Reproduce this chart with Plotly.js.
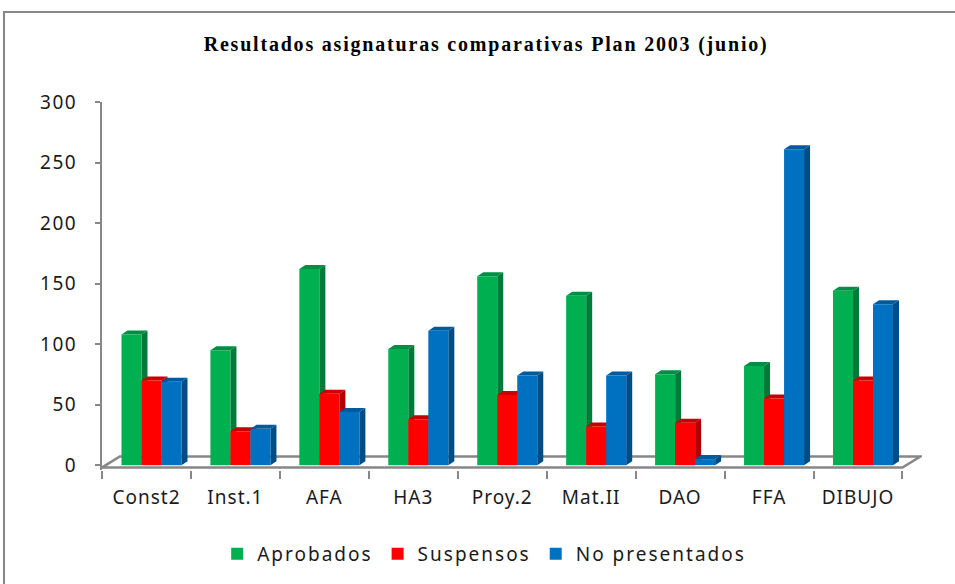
<!DOCTYPE html>
<html><head><meta charset="utf-8">
<script src="https://cdn.plot.ly/plotly-3.0.1.min.js"></script>
<style>
html,body{margin:0;padding:0;background:#fff;}
#wrap{position:relative;width:955px;height:584px;overflow:hidden;}
#chart{width:955px;height:584px;}
#frame{position:absolute;left:3px;top:11px;width:952px;height:573px;border-top:2px solid #878787;border-left:2px solid #878787;pointer-events:none;box-sizing:border-box;}
.gtitle{letter-spacing:1.8px;}
.legendtext{letter-spacing:2px;}
.xtick text{letter-spacing:1px;}
.ytick text{letter-spacing:1.5px;}
</style></head>
<body>
<div id="wrap"><div id="chart"></div><div id="frame"></div></div>
<script>
// ---- data ----
const categories = ['Const2','Inst.1','AFA','HA3','Proy.2','Mat.II','DAO','FFA','DIBUJO'];
const aprobados     = [108, 95, 162, 96, 156, 140, 75, 82, 144];
const suspensos     = [70, 28, 59, 38, 58, 32, 35, 55, 70];
const noPresentados = [69, 30, 44, 111, 74, 74, 5, 261, 133];
const seriesNames = ['Aprobados','Suspensos','No presentados'];
const yTickVals = [0, 50, 100, 150, 200, 250, 300];

// ---- styling ----
const frontColors = ['#00B050', '#FF0000', '#0070C0'];
const sideColors  = ['#007A38', '#B00000', '#004C85'];
const capColors   = ['#008E45', '#C80000', '#005A9C'];
const offsets = [-0.281, -0.056, 0.169];
const barW = 0.225;
const dx = 0.0675;   // 3D depth, x units
const dy = 3.3;      // 3D depth, y units
const idx = categories.map((_, i) => i);
const boundaries = categories.map((_, i) => i - 0.5).concat([categories.length - 0.5]);
const values = [aprobados, suspensos, noPresentados];

const traces = values.map((vals, k) => ({
  type: 'bar',
  name: seriesNames[k],
  x: idx,
  y: vals,
  offset: offsets[k],
  width: barW,
  marker: {color: frontColors[k], line: {width: 0}},
  hoverinfo: 'skip'
}));

const shapes = [];
const gray = '#878787';
const n = categories.length;
// floor parallelogram
shapes.push({type: 'path', xref: 'x', yref: 'y', layer: 'below',
  path: `M -0.5,-2 L ${n - 0.5},-2 L ${n - 0.5 + 0.2},7.1 L -0.3,7.1 Z`,
  line: {color: gray, width: 2.5}, fillcolor: 'rgba(0,0,0,0)'});
// 3D side and cap faces derived from data
values.forEach((vals, k) => {
  vals.forEach((v, i) => {
    const xl = i + offsets[k], xr = xl + barW;
    shapes.push({type: 'path', xref: 'x', yref: 'y', layer: 'below',
      path: `M ${xr},0 L ${xr + dx},${dy} L ${xr + dx},${v + dy} L ${xr},${v} Z`,
      fillcolor: sideColors[k], line: {width: 0}});
    shapes.push({type: 'path', xref: 'x', yref: 'y', layer: 'below',
      path: `M ${xl},${v} L ${xl + dx},${v + dy} L ${xr + dx},${v + dy} L ${xr},${v} Z`,
      fillcolor: capColors[k], line: {width: 0}});
  });
});

const layout = {
  width: 955, height: 584,
  margin: {l: 102, r: 33, t: 102, b: 114},
  paper_bgcolor: '#fff', plot_bgcolor: '#fff',
  barmode: 'overlay',
  title: {
    text: 'Resultados asignaturas comparativas Plan 2003 (junio)',
    font: {family: 'Liberation Serif', size: 20, color: '#000', weight: 'bold'},
    x: 0.509, xref: 'container', xanchor: 'center',
    y: 0.925, yref: 'container', yanchor: 'middle'
  },
  xaxis: {
    range: [-0.5, n - 0.5 + 0.22],
    tickmode: 'array', tickvals: idx, ticktext: categories,
    ticks: '', showline: false, showgrid: false, zeroline: false,
    ticklabelstandoff: 14,
    tickfont: {family: 'Noto Sans', size: 19, color: '#1a1a1a'},
    minor: {tickmode: 'array', tickvals: boundaries, ticks: 'outside', ticklen: 8, tickwidth: 2, tickcolor: gray, showgrid: false}
  },
  yaxis: {
    range: [-4, 300],
    tickmode: 'array', tickvals: yTickVals,
    ticks: 'outside', ticklen: 5, tickwidth: 2, tickcolor: gray,
    showline: true, linecolor: gray, linewidth: 2,
    showgrid: false, zeroline: false,
    ticklabelstandoff: 14,
    tickfont: {family: 'Noto Sans', size: 19, color: '#1a1a1a'}
  },
  legend: {
    orientation: 'h', xref: 'container', x: 0.507, xanchor: 'center',
    yref: 'container', y: 0.0514, yanchor: 'middle',
    font: {family: 'Noto Sans', size: 19, color: '#1a1a1a'},
    itemwidth: 30, traceorder: 'normal'
  },
  showlegend: true,
  shapes: shapes
};

Plotly.newPlot('chart', traces, layout, {displayModeBar: false, staticPlot: true});
</script>
</body></html>
